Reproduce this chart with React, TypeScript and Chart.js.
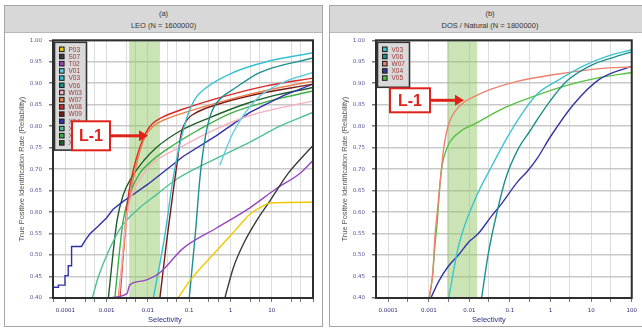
import React, { useEffect, useRef } from "react";
import { Chart, registerables } from "chart.js";
Chart.register(...registerables);

// ---------- axes ----------
const X_MIN = 0.00005;
const X_MAX = 100;
const GRID_DECADES = [0.00001, 0.0001, 0.001, 0.01, 0.1, 1, 10, 100];
const Y_TICKS = [0.4, 0.45, 0.5, 0.55, 0.6, 0.65, 0.7, 0.75, 0.8, 0.85, 0.9, 0.95, 1.0];

// ---------- (a) LEO ----------
const leoBand = [0.0035, 0.0195];
const leoP03X = [0.054, 0.105, 0.46, 1.4, 2.95, 6.1, 8.9, 100];
const leoP03Y = [0.4, 0.441, 0.51, 0.561, 0.595, 0.614, 0.621, 0.623];
const leoS07X = [0.73, 1.17, 2.04, 4.3, 8.9, 25, 100];
const leoS07Y = [0.4, 0.47, 0.525, 0.58, 0.625, 0.69, 0.755];
const leoT02X = [0.00102, 0.0031, 0.0036, 0.0076, 0.02, 0.07, 0.46, 2.95, 13, 48, 100];
const leoT02Y = [0.4, 0.41, 0.43, 0.44, 0.46, 0.515, 0.563, 0.61, 0.655, 0.69, 0.72];
const leoV01X = [0.55, 1.17, 4.27, 19, 100];
const leoV01Y = [0.709, 0.786, 0.863, 0.902, 0.925];
const leoV03X = [0.0135, 0.0251, 0.0427, 0.0759, 0.132, 0.263, 1.17, 7.4, 100];
const leoV03Y = [0.4, 0.54, 0.69, 0.8, 0.86, 0.89, 0.925, 0.95, 0.971];
const leoV06X = [0.1, 0.141, 0.182, 0.251, 0.355, 0.631, 1.17, 5.1, 100];
const leoV06Y = [0.4, 0.55, 0.68, 0.78, 0.835, 0.868, 0.886, 0.925, 0.959];
const leoW03X = [0.002, 0.00251, 0.00316, 0.00447, 0.00794, 0.0112, 0.0724, 0.457, 2.95, 100];
const leoW03Y = [0.4, 0.52, 0.6, 0.65, 0.69, 0.709, 0.755, 0.794, 0.825, 0.859];
const leoW07X = [0.0019, 0.00251, 0.00331, 0.00447, 0.00589, 0.00851, 0.0135, 0.0251, 0.1, 0.501, 3.16, 15.8, 100];
const leoW07Y = [0.4, 0.5, 0.615, 0.68, 0.73, 0.775, 0.8, 0.815, 0.835, 0.855, 0.875, 0.89, 0.905];
const leoW08X = [0.00209, 0.00251, 0.00316, 0.00447, 0.00631, 0.00891, 0.0126, 0.0214, 0.0724, 0.741, 7.41, 100];
const leoW08Y = [0.4, 0.5, 0.62, 0.7, 0.75, 0.785, 0.805, 0.82, 0.84, 0.87, 0.894, 0.912];
const leoW09X = [0.0195, 0.0282, 0.0398, 0.0501, 0.0631, 0.0891, 0.138, 0.457, 2.95, 100];
const leoW09Y = [0.4, 0.53, 0.64, 0.71, 0.78, 0.815, 0.83, 0.85, 0.871, 0.898];
const leoX04X = [0.0000501, 0.0000676, 0.0000676, 0.0000977, 0.0000977, 0.000117, 0.000117, 0.000141, 0.000141, 0.000245, 0.000316, 0.000398, 0.000575, 0.001, 0.00141, 0.00251, 0.00398, 0.01, 0.0214, 0.0724, 0.457, 2.95, 19.1, 100];
const leoX04Y = [0.425, 0.425, 0.43, 0.43, 0.452, 0.452, 0.475, 0.475, 0.52, 0.52, 0.537, 0.55, 0.564, 0.587, 0.606, 0.625, 0.638, 0.665, 0.69, 0.73, 0.778, 0.832, 0.871, 0.898];
const leoX05X = [0.000447, 0.000631, 0.00112, 0.00224, 0.00631, 0.0158, 0.0501, 0.457, 2.95, 15.8, 100];
const leoX05Y = [0.4, 0.45, 0.51, 0.565, 0.61, 0.64, 0.677, 0.725, 0.763, 0.8, 0.832];
const leoX06X = [0.00158, 0.002, 0.00251, 0.00355, 0.00631, 0.0126, 0.0398, 0.158, 1, 10, 100];
const leoX06Y = [0.4, 0.5, 0.58, 0.64, 0.69, 0.72, 0.755, 0.79, 0.83, 0.86, 0.882];
const leoX07X = [0.0011, 0.00141, 0.00178, 0.00251, 0.00398, 0.00794, 0.0158, 0.0631, 0.316, 2.0, 10, 100];
const leoX07Y = [0.4, 0.5, 0.58, 0.64, 0.68, 0.72, 0.75, 0.79, 0.82, 0.85, 0.87, 0.89];

// ---------- (b) DOS / Natural ----------
const dosBand = [0.0028, 0.0156];
const dosV03X = [0.00309, 0.00537, 0.0138, 0.0347, 0.0871, 0.2, 0.468, 1.41, 6.31, 23.4, 100];
const dosV03Y = [0.4, 0.52, 0.63, 0.705, 0.775, 0.83, 0.875, 0.905, 0.94, 0.962, 0.978];
const dosV06X = [0.02, 0.0288, 0.0479, 0.0794, 0.155, 0.316, 0.468, 1, 2.51, 9.12, 40.7, 100];
const dosV06Y = [0.4, 0.5, 0.6, 0.68, 0.745, 0.79, 0.815, 0.86, 0.905, 0.94, 0.962, 0.973];
const dosW07X = [0.00102, 0.00126, 0.00141, 0.0017, 0.002, 0.00234, 0.00309, 0.00447, 0.00794, 0.0138, 0.0316, 0.158, 1.41, 15.8, 100];
const dosW07Y = [0.4, 0.46, 0.54, 0.62, 0.69, 0.75, 0.805, 0.835, 0.858, 0.87, 0.885, 0.905, 0.921, 0.934, 0.938];
const dosX04X = [0.00112, 0.00178, 0.00309, 0.00537, 0.00955, 0.0166, 0.0347, 0.0603, 0.155, 0.269, 0.468, 1, 3.63, 15.8, 100];
const dosX04Y = [0.4, 0.44, 0.475, 0.5, 0.53, 0.55, 0.59, 0.618, 0.671, 0.695, 0.725, 0.776, 0.85, 0.909, 0.94];
const dosV05X = [0.00102, 0.00123, 0.00141, 0.00162, 0.00186, 0.00214, 0.00282, 0.00372, 0.00646, 0.0138, 0.0347, 0.0871, 0.398, 2.51, 15.8, 100];
const dosV05Y = [0.4, 0.45, 0.52, 0.58, 0.66, 0.71, 0.75, 0.77, 0.79, 0.806, 0.827, 0.846, 0.87, 0.895, 0.913, 0.925];

type Series = { label: string; color: string; xs: number[]; ys: number[]; straight?: boolean };

const leoSeries: Series[] = [
  { label: "P03", color: "#f0c800", xs: leoP03X, ys: leoP03Y },
  { label: "S07", color: "#3a3a3a", xs: leoS07X, ys: leoS07Y },
  { label: "T02", color: "#9646c0", xs: leoT02X, ys: leoT02Y },
  { label: "V01", color: "#62d0e2", xs: leoV01X, ys: leoV01Y },
  { label: "V03", color: "#34c2d2", xs: leoV03X, ys: leoV03Y },
  { label: "V06", color: "#1e8e90", xs: leoV06X, ys: leoV06Y },
  { label: "W03", color: "#f4b0bc", xs: leoW03X, ys: leoW03Y },
  { label: "W07", color: "#ec7e4c", xs: leoW07X, ys: leoW07Y },
  { label: "W08", color: "#d82828", xs: leoW08X, ys: leoW08Y },
  { label: "W09", color: "#7a1818", xs: leoW09X, ys: leoW09Y },
  { label: "X04", color: "#3030a8", xs: leoX04X, ys: leoX04Y, straight: true },
  { label: "X05", color: "#4cc293", xs: leoX05X, ys: leoX05Y },
  { label: "X06", color: "#3cb043", xs: leoX06X, ys: leoX06Y },
  { label: "X07", color: "#1e5e28", xs: leoX07X, ys: leoX07Y },
];

const dosSeries: Series[] = [
  { label: "V03", color: "#3cc4d0", xs: dosV03X, ys: dosV03Y },
  { label: "V06", color: "#1f9090", xs: dosV06X, ys: dosV06Y },
  { label: "W07", color: "#f08070", xs: dosW07X, ys: dosW07Y },
  { label: "X04", color: "#3535a5", xs: dosX04X, ys: dosX04Y },
  { label: "V05", color: "#58c040", xs: dosV05X, ys: dosV05Y },
];

type Callout = { dx: number; dy: number; w: number; h: number; tip: number };

type PanelProps = {
  series: Series[];
  band: number[];
  mults: number[];
  showMaxLabel: boolean;
  canvasLeft: number;
  callout: Callout;
  legendPad: number;
};

function xLabel(v: number, showMax: boolean) {
  const lg = Math.log10(v);
  if (Math.abs(lg - Math.round(lg)) > 1e-6) return "";
  if (!showMax && v >= X_MAX * 0.999) return "";
  return String(Number(v.toPrecision(6)));
}

function ChartPanel(p: PanelProps) {
  const ref = useRef<HTMLCanvasElement | null>(null);
  useEffect(() => {
    const canvas = ref.current!;
    const gridTicks: number[] = [];
    GRID_DECADES.forEach((d) =>
      p.mults.forEach((m) => {
        const v = Number((d * m).toPrecision(6));
        if (v >= X_MIN && v <= X_MAX) gridTicks.push(v);
      })
    );
    gridTicks.sort((a, b) => a - b);

    const overlay = {
      id: "overlay",
      beforeDatasetsDraw(chart: any) {
        const { ctx, chartArea: ca, scales } = chart;
        const x0 = scales.x.getPixelForValue(p.band[0]);
        const x1 = scales.x.getPixelForValue(p.band[1]);
        ctx.save();
        ctx.fillStyle = "rgba(140,195,90,0.45)";
        ctx.fillRect(x0, ca.top, x1 - x0, ca.bottom - ca.top);
        ctx.restore();
      },
      afterDatasetsDraw(chart: any) {
        const { ctx, chartArea: ca } = chart;
        ctx.save();
        // frame
        ctx.strokeStyle = "#2e2e2e";
        ctx.lineWidth = 2;
        ctx.strokeRect(ca.left, ca.top, ca.right - ca.left, ca.bottom - ca.top);
        // legend
        const n = p.series.length;
        const lx = ca.left + 1.5, ly = ca.top + 2, lw = 32, lh = n * 7.2 + p.legendPad;
        ctx.fillStyle = "#d9d9d9";
        ctx.fillRect(lx, ly, lw, lh);
        ctx.strokeStyle = "#333";
        ctx.lineWidth = 1.6;
        ctx.strokeRect(lx, ly, lw, lh);
        ctx.font = "6.5px 'Liberation Sans', Arial, sans-serif";
        ctx.textBaseline = "middle";
        ctx.textAlign = "left";
        p.series.forEach((s, i) => {
          const cy = ly + 7 + i * 7.2;
          ctx.fillStyle = "#222";
          ctx.fillRect(lx + 4.5, cy - 2.8, 5.6, 5.6);
          ctx.fillStyle = s.color;
          ctx.fillRect(lx + 5.6, cy - 1.7, 3.4, 3.4);
          ctx.fillStyle = "#a03838";
          ctx.fillText(s.label, lx + 14, cy + 0.5);
        });
        // L-1 callout
        const c = p.callout;
        const bx = ca.left + c.dx, by = ca.top + c.dy;
        ctx.fillStyle = "#ffffff";
        ctx.fillRect(bx, by, c.w, c.h);
        ctx.strokeStyle = "#e0221c";
        ctx.lineWidth = 2;
        ctx.strokeRect(bx, by, c.w, c.h);
        ctx.fillStyle = "#e0221c";
        ctx.font = "bold 16px 'Liberation Sans', Arial, sans-serif";
        ctx.textAlign = "center";
        ctx.textBaseline = "middle";
        ctx.fillText("L-1", bx + c.w / 2, by + c.h / 2 + 1);
        const ay = by + c.h / 2;
        const tx = ca.left + c.tip;
        ctx.lineWidth = 3;
        ctx.beginPath();
        ctx.moveTo(bx + c.w + 1, ay);
        ctx.lineTo(tx - 7, ay);
        ctx.stroke();
        ctx.beginPath();
        ctx.moveTo(tx, ay);
        ctx.lineTo(tx - 9, ay - 5.5);
        ctx.lineTo(tx - 9, ay + 5.5);
        ctx.closePath();
        ctx.fill();
        ctx.restore();
      },
    };

    const chart = new Chart(canvas, {
      type: "line",
      data: {
        datasets: p.series.map((s) => ({
          label: s.label,
          data: s.xs.map((x, i) => ({ x, y: s.ys[i] })),
          borderColor: s.color,
          backgroundColor: s.color,
          borderWidth: 1.4,
          pointRadius: 0,
          fill: false,
          tension: s.straight ? 0 : 0.4,
          cubicInterpolationMode: s.straight ? "default" : "monotone",
        })),
      },
      options: {
        responsive: false,
        animation: false,
        devicePixelRatio: 1,
        layout: { padding: { top: 7, right: 6, left: 0, bottom: 0 } },
        plugins: { legend: { display: false }, tooltip: { enabled: false } },
        scales: {
          x: {
            type: "logarithmic",
            min: X_MIN,
            max: X_MAX,
            afterBuildTicks: (sc: any) => {
              sc.ticks = gridTicks.map((v) => ({ value: v }));
            },
            afterFit: (sc: any) => {
              sc.height = 29;
            },
            ticks: {
              autoSkip: false,
              maxRotation: 0,
              minRotation: 0,
              padding: 5,
              color: "#2d2d6e",
              font: { family: "'DejaVu Sans', sans-serif", size: 5.5 },
              callback: (v: any) => xLabel(Number(v), p.showMaxLabel),
            },
            grid: { color: "#dcdcdc", lineWidth: 1, tickLength: 4, tickColor: "#777" },
            border: { display: false },
          },
          y: {
            type: "linear",
            min: 0.4,
            max: 1.0,
            afterBuildTicks: (sc: any) => {
              sc.ticks = Y_TICKS.map((v) => ({ value: v }));
            },
            afterFit: (sc: any) => {
              sc.width = 45;
            },
            ticks: {
              padding: 7,
              color: "#56569a",
              font: { family: "'DejaVu Sans', sans-serif", size: 5.5 },
              callback: (v: any) => Number(v).toFixed(2),
            },
            grid: { color: "#c9c9c9", lineWidth: 1.5, tickLength: 4, tickColor: "#777" },
            border: { display: false },
            title: {
              display: true,
              text: "True Positive Identification Rate (Reliability)",
              color: "#555",
              font: { family: "'Liberation Sans', Arial, sans-serif", size: 7.5 },
              padding: { top: 9.5, bottom: 0 },
            },
          },
        },
      } as any,
      plugins: [overlay as any],
    });
    return () => chart.destroy();
  }, []);
  return (
    <canvas
      ref={ref}
      width={311}
      height={297}
      style={{ position: "absolute", left: p.canvasLeft, top: 30, width: 311, height: 297 }}
    />
  );
}

function PanelFrame({ left, width, letter, title }: { left: number; width: number; letter: string; title: string }) {
  return (
    <div
      style={{
        position: "absolute",
        left,
        top: 5,
        width,
        height: 322,
        border: "1px solid #a5a5a5",
        boxSizing: "border-box",
        background: "#fff",
      }}
    >
      <div
        style={{
          height: 27,
          background: "#d8d8d8",
          borderBottom: "1px solid #b8b8b8",
          textAlign: "center",
          fontSize: 7.5,
          lineHeight: "12px",
          color: "#333",
          paddingTop: 2,
          boxSizing: "border-box",
        }}
      >
        <div>{letter}</div>
        <div>{title}</div>
      </div>
    </div>
  );
}

export default function App() {
  const axisTitle: React.CSSProperties = {
    position: "absolute",
    top: 314,
    width: 80,
    textAlign: "center",
    fontSize: 7.5,
    lineHeight: "11px",
    color: "#2a3580",
  };
  return (
    <div
      style={{
        position: "fixed",
        left: 0,
        top: 0,
        width: 642,
        height: 330,
        background: "#fff",
        overflow: "hidden",
        fontFamily: "'Liberation Sans', Arial, sans-serif",
      }}
    >
      <PanelFrame left={4} width={319} letter="(a)" title="LEO (N = 1600000)" />
      <PanelFrame left={329} width={322} letter="(b)" title="DOS / Natural (N = 1800000)" />
      <ChartPanel
        series={leoSeries}
        band={leoBand}
        mults={[1, 3, 5]}
        showMaxLabel={false}
        canvasLeft={8}
        callout={{ dx: 19, dy: 81, w: 38, h: 29, tip: 95 }}
        legendPad={7}
      />
      <ChartPanel
        series={dosSeries}
        band={dosBand}
        mults={[1, 3]}
        showMaxLabel={true}
        canvasLeft={331}
        callout={{ dx: 14, dy: 48, w: 40, h: 24, tip: 88 }}
        legendPad={9}
      />
      <div style={{ ...axisTitle, left: 125 }}>Selectivity</div>
      <div style={{ ...axisTitle, left: 449 }}>Selectivity</div>
    </div>
  );
}
